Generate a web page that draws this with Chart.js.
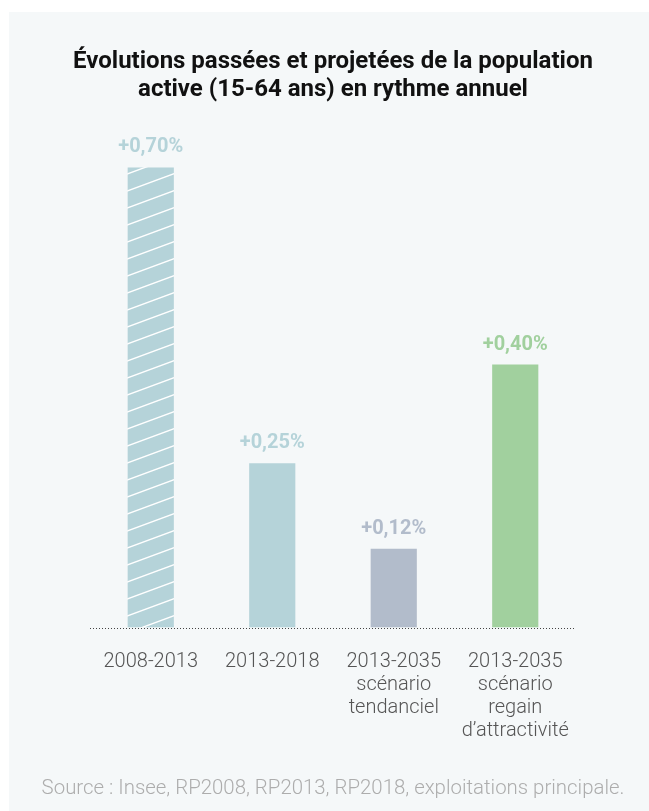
<!DOCTYPE html>
<html>
<head>
<meta charset="utf-8">
<script src="https://cdn.jsdelivr.net/npm/chart.js@4"></script>
<style>
  html, body { margin: 0; padding: 0; background: #ffffff; }
  #wrap { position: relative; width: 649px; height: 811px; }
</style>
</head>
<body>
<div id="wrap"><canvas id="chart" width="649" height="811"></canvas></div>
<script>
const categories = [
  ['2008-2013'],
  ['2013-2018'],
  ['2013-2035', 'scénario', 'tendanciel'],
  ['2013-2035', 'scénario', 'regain', 'd\u2019attractivité']
];
const values = [0.70, 0.25, 0.12, 0.40];
const barColors = ['#b5d3d9', '#b5d3d9', '#b2bccb', '#a1d09e'];
const hatched = [true, false, false, false];

// diagonal white stripes for the first bar
function makeHatch(base) {
  const c = document.createElement('canvas');
  c.width = 46; c.height = 17;
  const g = c.getContext('2d');
  g.fillStyle = base;
  g.fillRect(0, 0, 46, 17);
  g.strokeStyle = '#ffffff';
  g.lineWidth = 1.4;
  g.beginPath();
  g.moveTo(-46, 34); g.lineTo(92, -17);
  g.moveTo(-46, 17); g.lineTo(92, -34);
  g.moveTo(-46, 51); g.lineTo(92, 0);
  g.stroke();
  return g.createPattern(c, 'repeat');
}

const panelBg = {
  id: 'panelBg',
  beforeDraw(chart) {
    const ctx = chart.ctx;
    ctx.save();
    ctx.fillStyle = '#f5f8f9';
    ctx.fillRect(9, 12, chart.width - 9, chart.height - 12);
    ctx.restore();
  }
};

const valueLabels = {
  id: 'valueLabels',
  afterDatasetsDraw(chart) {
    const ctx = chart.ctx;
    const meta = chart.getDatasetMeta(0);
    const area = chart.chartArea;
    const y0 = Math.round(chart.scales.y.getPixelForValue(0)) + 0.5;
    ctx.save();
    // dotted baseline
    ctx.strokeStyle = '#444444';
    ctx.lineWidth = 1;
    ctx.setLineDash([1, 2]);
    ctx.beginPath();
    ctx.moveTo(area.left, y0);
    ctx.lineTo(area.right, y0);
    ctx.stroke();
    ctx.setLineDash([]);

    ctx.font = 'bold 20px Roboto';
    ctx.textAlign = 'center';
    ctx.textBaseline = 'middle';
    meta.data.forEach((bar, i) => {
      ctx.fillStyle = barColors[i];
      ctx.fillText('+' + values[i].toFixed(2).replace('.', ',') + '%', bar.x, bar.y - 20);
    });
    ctx.restore();
  }
};

// invisible side axes only reserve room so the title keeps its natural width
const spacer = w => ({
  display: true,
  grid: { display: false },
  border: { display: false },
  ticks: { display: false },
  afterFit: s => { s.width = w; }
});

new Chart(document.getElementById('chart'), {
  type: 'bar',
  data: {
    labels: categories,
    datasets: [{
      data: values,
      backgroundColor: barColors.map((c, i) => hatched[i] ? makeHatch(c) : c),
      borderWidth: 0,
      categoryPercentage: 1,
      barPercentage: 0.38
    }]
  },
  options: {
    responsive: false,
    animation: false,
    layout: { padding: { left: 30, right: 13, top: 48, bottom: 10 } },
    plugins: {
      legend: { display: false },
      tooltip: { enabled: false },
      title: {
        display: true,
        text: ['Évolutions passées et projetées de la population', 'active (15-64 ans) en rythme annuel'],
        color: '#111111',
        font: { family: 'Roboto', size: 24, weight: 'bold', lineHeight: 1.167 },
        padding: { top: 0, bottom: 24 }
      },
      subtitle: {
        display: true,
        position: 'bottom',
        text: 'Source : Insee, RP2008, RP2013, RP2018, exploitations principale.',
        color: '#adadad',
        font: { family: 'Roboto', size: 20.4, weight: '300', lineHeight: 1.2 },
        padding: { top: 11, bottom: 0 }
      }
    },
    scales: {
      x: {
        grid: { display: false, drawTicks: false },
        border: { display: false },
        ticks: {
          color: '#555555',
          font: { family: 'Roboto', size: 20, weight: '300', lineHeight: 1.15 },
          padding: 23,
          maxRotation: 0,
          autoSkip: false
        }
      },
      y: Object.assign(spacer(60), { min: 0, max: 0.76 }),
      yRight: Object.assign(spacer(60), { position: 'right', min: 0, max: 1 })
    }
  },
  plugins: [panelBg, valueLabels]
});
</script>
</body>
</html>
